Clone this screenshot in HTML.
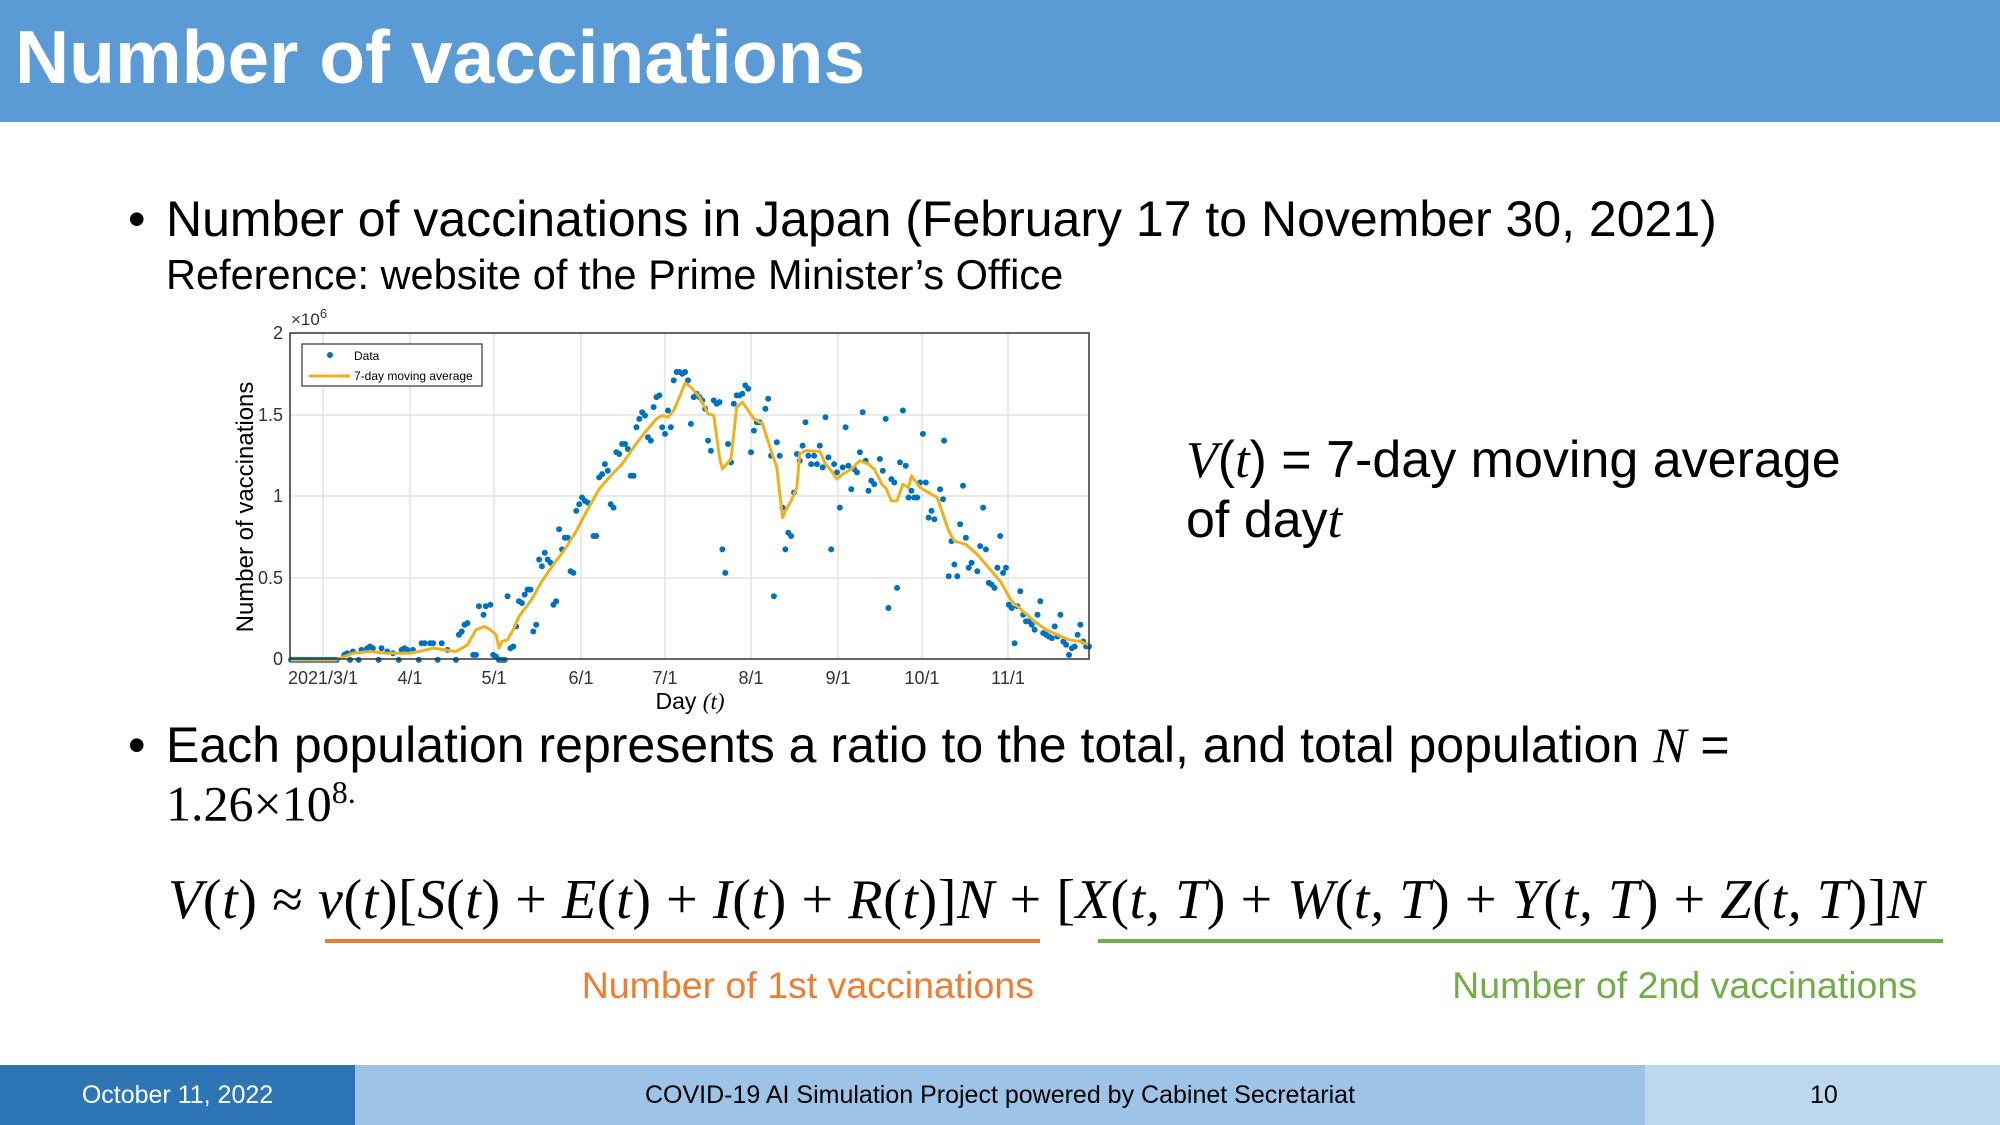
<!DOCTYPE html>
<html><head><meta charset="utf-8">
<style>
body{margin:0;width:2000px;height:1125px;position:relative;overflow:hidden;background:#fff;font-family:"Liberation Sans",sans-serif;}
.a{position:absolute;white-space:nowrap;}
.m{font-family:"Liberation Serif",serif;font-style:italic;}
</style></head><body>
<div class="a" style="left:0;top:0;width:2000px;height:122px;background:#5b9bd5;"></div>
<div class="a" style="left:15px;top:14px;font-size:75px;font-weight:bold;color:#fff;">Number of vaccinations</div>

<div class="a" style="left:128px;top:190px;font-size:50px;">•</div>
<div class="a" style="left:166px;top:190px;font-size:50px;">Number of vaccinations in Japan (February 17 to November 30, 2021)</div>
<div class="a" style="left:166px;top:251px;font-size:41.5px;">Reference: website of the Prime Minister’s Office</div>

<div class="a" style="left:1186px;top:430px;font-size:52px;"><span class="m">V</span>(<span class="m">t</span>) = 7-day moving average</div>
<div class="a" style="left:1186px;top:490px;font-size:52px;">of day<span class="m">t</span></div>

<div class="a" style="left:128px;top:716px;font-size:50px;">•</div>
<div class="a" style="left:166px;top:716px;font-size:50px;">Each population represents a ratio to the total, and total population <span class="m">N</span> =</div>
<div class="a" style="left:166px;top:774px;font-size:50px;font-family:'Liberation Serif',serif;">1.26×10<sup style="font-size:32px;">8.</sup></div>

<div class="a m" style="left:168px;top:868px;font-size:56px;letter-spacing:0.6px;">V<span style="font-style:normal">(</span>t<span style="font-style:normal">) ≈ </span>v<span style="font-style:normal">(</span>t<span style="font-style:normal">)[</span>S<span style="font-style:normal">(</span>t<span style="font-style:normal">) + </span>E<span style="font-style:normal">(</span>t<span style="font-style:normal">) + </span>I<span style="font-style:normal">(</span>t<span style="font-style:normal">) + </span>R<span style="font-style:normal">(</span>t<span style="font-style:normal">)]</span>N<span style="font-style:normal"> + [</span>X<span style="font-style:normal">(</span>t, T<span style="font-style:normal">) + </span>W<span style="font-style:normal">(</span>t, T<span style="font-style:normal">) + </span>Y<span style="font-style:normal">(</span>t, T<span style="font-style:normal">) + </span>Z<span style="font-style:normal">(</span>t, T<span style="font-style:normal">)]</span>N</div>
<div class="a" style="left:325px;top:939px;width:715px;height:4px;background:#ed7d31;"></div>
<div class="a" style="left:1098px;top:939px;width:845px;height:4px;background:#70ad47;"></div>
<div class="a" style="right:966px;top:964px;font-size:37.5px;color:#ed7d31;">Number of 1st vaccinations</div>
<div class="a" style="right:83px;top:964px;font-size:37.5px;color:#70ad47;">Number of 2nd vaccinations</div>

<div class="a" style="left:0;top:1065px;width:355px;height:60px;background:#2e75b6;color:#fff;font-size:25px;text-align:center;line-height:60px;">October 11, 2022</div>
<div class="a" style="left:355px;top:1065px;width:1290px;height:60px;background:#9dc3e6;font-size:25px;text-align:center;line-height:60px;">COVID-19 AI Simulation Project powered by Cabinet Secretariat</div>
<div class="a" style="left:1645px;top:1065px;width:355px;height:60px;background:#bdd7ee;font-size:25px;line-height:60px;"><span style="position:absolute;left:165px;">10</span></div>

<svg class="a" style="left:0;top:0" width="2000" height="1125" id="ch">
<g stroke="#e3e3e3" stroke-width="1.5">
<line x1="323" y1="333" x2="323" y2="659"/><line x1="410" y1="333" x2="410" y2="659"/><line x1="494" y1="333" x2="494" y2="659"/><line x1="581" y1="333" x2="581" y2="659"/><line x1="665" y1="333" x2="665" y2="659"/><line x1="751" y1="333" x2="751" y2="659"/><line x1="838" y1="333" x2="838" y2="659"/><line x1="922" y1="333" x2="922" y2="659"/><line x1="1008" y1="333" x2="1008" y2="659"/>
<line x1="290" y1="415" x2="1089" y2="415"/><line x1="290" y1="496" x2="1089" y2="496"/><line x1="290" y1="578" x2="1089" y2="578"/>
</g>
<g id="dots" fill="#0072bd"></g>
<polyline id="ma" fill="none" stroke="#edb120" stroke-width="3" stroke-linejoin="round"/>
<rect x="290" y="333" width="799" height="326" fill="none" stroke="#333" stroke-width="1.5"/>
<g font-family="Liberation Sans,sans-serif" font-size="18" fill="#333" text-anchor="end">
<text x="283" y="339">2</text><text x="283" y="421">1.5</text><text x="283" y="502">1</text><text x="283" y="584">0.5</text><text x="283" y="665">0</text>
</g>
<text x="291" y="325" font-family="Liberation Sans,sans-serif" font-size="17" fill="#333">×10<tspan dy="-7" font-size="13">6</tspan></text>
<g font-family="Liberation Sans,sans-serif" font-size="18" fill="#333" text-anchor="middle">
<text x="323" y="684">2021/3/1</text><text x="410" y="684">4/1</text><text x="494" y="684">5/1</text><text x="581" y="684">6/1</text><text x="665" y="684">7/1</text><text x="751" y="684">8/1</text><text x="838" y="684">9/1</text><text x="922" y="684">10/1</text><text x="1008" y="684">11/1</text>
</g>
<text x="690" y="709" font-family="Liberation Sans,sans-serif" font-size="23" text-anchor="middle">Day <tspan font-family="Liberation Serif,serif" font-style="italic">(t)</tspan></text>
<text transform="translate(253,507) rotate(-90)" font-family="Liberation Sans,sans-serif" font-size="24" text-anchor="middle">Number of vaccinations</text>
<rect x="302" y="344" width="180" height="42" fill="#fff" stroke="#333" stroke-width="1.2"/>
<circle cx="330" cy="355" r="3" fill="#0072bd"/>
<text x="354" y="360" font-family="Liberation Sans,sans-serif" font-size="12">Data</text>
<line x1="309" y1="376" x2="350" y2="376" stroke="#edb120" stroke-width="3"/>
<text x="354" y="380" font-family="Liberation Sans,sans-serif" font-size="12">7-day moving average</text>
</svg>
<script>
var T=function(p){return [221.1+p[0]*0.5729,300+p[1]*0.3348];};
var ma=[[122,1075],[200,1075],[230,1055],[260,1050],[290,1055],[330,1055],[350,1048],[370,1040],[390,1045],[410,1050],[430,1030],[445,985],[460,975],[470,985],[480,1000],[485,1040],[490,1020],[500,1015],[510,985],[520,945],[540,900],[560,840],[580,790],[600,745],[620,690],[640,625],[660,565],[680,525],[700,490],[720,440],[740,395],[760,355],[770,345],[780,350],[790,330],[800,290],[810,248],[820,260],[835,290],[850,340],[860,345],[870,470],[875,505],[880,495],[890,475],[900,320],[910,305],[920,330],[930,355],[945,370],[960,450],[970,500],[980,650],[985,630],[995,600],[1005,560],[1010,460],[1020,450],[1045,452],[1055,490],[1065,510],[1075,535],[1085,520],[1100,505],[1115,480],[1130,490],[1140,505],[1155,555],[1160,560],[1170,600],[1180,600],[1190,550],[1200,560],[1205,525],[1220,560],[1240,580],[1250,590],[1260,640],[1270,690],[1280,720],[1300,730],[1320,760],[1340,800],[1360,840],[1380,900],[1400,930],[1420,960],[1440,985],[1460,1000],[1480,1015],[1500,1020],[1515,1030]];
document.getElementById('ma').setAttribute('points',ma.map(function(p){return T(p).join(',');}).join(' '));
var d=[];for(var x=122;x<=205;x+=5)d.push([x,1075]);
d=d.concat([[215,1060],[220,1055],[225,1075],[230,1050],[240,1075],[245,1045],[255,1040],[260,1035],[265,1040],[275,1075],[280,1040],[290,1050],[300,1055],[310,1075],[315,1045],[320,1040],[325,1045],[335,1045],[345,1075],[350,1025],[355,1025],[365,1025],[370,1025],[378,1075],[385,1025],[395,1045],[410,1075],[415,1000],[420,990],[425,970],[430,965],[440,1060],[445,1060],[450,915],[458,940],[462,915],[470,910],[475,1060],[480,1065],[485,1075],[490,1075],[495,1075],[500,885],[505,1040],[510,1035],[515,975],[520,900],[525,905],[530,880],[535,865],[540,865],[545,990],[550,970],[555,775],[560,795],[565,755],[570,775],[575,785],[580,910],[585,900],[590,685],[595,745],[600,710],[605,710],[610,810],[615,815],[620,630],[625,610],[630,590],[635,600],[640,605],[650,705],[655,705],[660,530],[665,520],[670,490],[675,510],[680,610],[685,620],[690,455],[695,460],[700,430],[705,430],[710,445],[715,525],[720,525],[725,380],[730,355],[735,335],[740,345],[745,410],[750,420],[755,320],[760,290],[765,285],[770,380],[775,400],[780,330],[785,380],[790,240],[795,215],[800,215],[805,220],[810,215],[815,240],[820,370],[825,290],[830,280],[835,290],[840,300],[845,325],[850,420],[855,450],[860,300],[865,310],[870,305],[875,745],[880,815],[885,430],[890,485],[895,310],[900,285],[905,285],[910,280],[915,255],[920,265],[925,455],[930,390],[935,365],[940,365],[950,325],[955,295],[960,465],[965,885],[970,425],[975,465],[980,620],[985,745],[990,695],[995,705],[1000,575],[1005,460],[1010,480],[1015,435],[1020,365],[1025,465],[1030,490],[1035,465],[1040,490],[1045,435],[1050,500],[1055,350],[1060,470],[1065,745],[1070,490],[1075,515],[1080,620],[1085,500],[1090,380],[1095,495],[1100,565],[1105,505],[1110,515],[1115,455],[1120,335],[1125,480],[1130,570],[1135,540],[1140,550],[1150,475],[1155,510],[1160,355],[1165,920],[1170,535],[1175,545],[1180,860],[1185,485],[1190,330],[1195,495],[1200,590],[1205,570],[1210,590],[1215,590],[1220,545],[1225,400],[1230,545],[1235,650],[1240,630],[1245,655],[1255,565],[1260,595],[1262,420],[1270,825],[1275,720],[1280,790],[1285,825],[1290,670],[1295,555],[1300,710],[1305,800],[1310,785],[1320,810],[1325,735],[1330,620],[1335,745],[1340,845],[1345,850],[1350,860],[1355,800],[1360,705],[1365,815],[1370,800],[1375,910],[1380,920],[1385,1025],[1390,915],[1395,870],[1400,940],[1405,960],[1410,960],[1415,970],[1420,985],[1425,940],[1430,900],[1435,995],[1440,1000],[1445,1005],[1450,1010],[1455,975],[1460,1005],[1465,940],[1470,1020],[1475,1030],[1480,1060],[1485,1040],[1490,1035],[1495,1000],[1500,970],[1505,1020],[1510,1035],[1515,1035]]);
var g=document.getElementById('dots'),h='';
d.forEach(function(p){var q=T(p);h+='<circle cx="'+q[0].toFixed(1)+'" cy="'+q[1].toFixed(1)+'" r="3"/>';});
g.innerHTML=h;
</script>
</body></html>
